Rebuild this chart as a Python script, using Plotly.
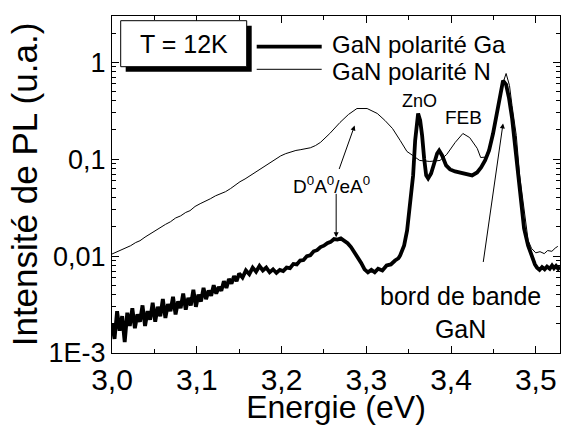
import plotly.graph_objects as go

# ---- data ----
energy_ga = [3.000, 3.003, 3.006, 3.009, 3.012, 3.015, 3.018, 3.021, 3.024, 3.027,
             3.030, 3.033, 3.036, 3.039, 3.042, 3.045, 3.048, 3.051, 3.054, 3.057,
             3.060, 3.063, 3.066, 3.069, 3.072, 3.075, 3.078, 3.081, 3.084, 3.087,
             3.090, 3.093, 3.096, 3.099, 3.102, 3.105, 3.108, 3.111, 3.114, 3.117,
             3.120, 3.123, 3.126, 3.129, 3.132, 3.135, 3.138, 3.141, 3.144, 3.147,
             3.150, 3.154, 3.158, 3.162, 3.166, 3.170, 3.174, 3.178, 3.182, 3.186,
             3.190, 3.194, 3.198, 3.202, 3.206, 3.210, 3.214, 3.218, 3.222, 3.226,
             3.230, 3.234, 3.238, 3.242, 3.246, 3.250, 3.254, 3.258, 3.262, 3.266,
             3.270, 3.274, 3.278, 3.282, 3.286, 3.290, 3.294, 3.298, 3.302, 3.306,
             3.310, 3.314, 3.319, 3.324, 3.329, 3.334, 3.338,
             3.3400, 3.3447, 3.3482, 3.3518, 3.3553, 3.3577, 3.3600, 3.3612,
             3.3636, 3.3659, 3.3683, 3.3707, 3.3730, 3.3765, 3.3801, 3.3836, 3.3860, 3.3895,
             3.3942, 3.3989, 3.4048, 3.4107, 3.4178, 3.4249, 3.4308, 3.4355, 3.4402, 3.4449,
             3.4496, 3.4543, 3.4579, 3.4614, 3.4650, 3.4685, 3.4721, 3.4756, 3.4791, 3.4827,
             3.4862, 3.4909, 3.4956, 3.4990, 3.5015, 3.5045, 3.5074, 3.5105, 3.5133, 3.5165,
             3.5192, 3.5215, 3.5239, 3.5265, 3.5286]
intensity_ga = [0.0020, 0.0014, 0.0027, 0.0017, 0.0024, 0.0013, 0.0026, 0.0019, 0.0029, 0.0018,
                0.0025, 0.0021, 0.0031, 0.0019, 0.0027, 0.0022, 0.0033, 0.0021, 0.0030, 0.0024,
                0.0036, 0.0023, 0.0032, 0.0027, 0.0038, 0.0025, 0.0034, 0.0029, 0.0041, 0.0028,
                0.0037, 0.0031, 0.0045, 0.0030, 0.0040, 0.0034, 0.0047, 0.0036, 0.0044, 0.0039,
                0.0050, 0.0041, 0.0048, 0.0044, 0.0055, 0.0047, 0.0058, 0.0052, 0.0062, 0.0055,
                0.0066, 0.0060, 0.0071, 0.0065, 0.0076, 0.0069, 0.0079, 0.0071, 0.0076, 0.0068,
                0.0073, 0.0067, 0.0072, 0.0070, 0.0076, 0.0075, 0.0083, 0.0082, 0.0090, 0.0091,
                0.0100, 0.0102, 0.0112, 0.0115, 0.0124, 0.0128, 0.0136, 0.0140, 0.0150, 0.0148,
                0.0152, 0.0145, 0.0136, 0.0124, 0.0110, 0.0097, 0.0085, 0.0073, 0.0068, 0.0072,
                0.0068, 0.0074, 0.0071, 0.0080, 0.0082, 0.0090, 0.0095,
                0.01016, 0.01289, 0.01842, 0.0333, 0.0679, 0.1558, 0.2505, 0.296,
                0.2505, 0.1754, 0.1016, 0.0679, 0.0632, 0.0712, 0.0903, 0.1145, 0.1230, 0.1092,
                0.0861, 0.0783, 0.0747, 0.0729, 0.0700, 0.0679, 0.0729, 0.0820, 0.0970, 0.1230,
                0.1840, 0.318, 0.487, 0.647, 0.589, 0.423, 0.263, 0.1385, 0.0679, 0.0333,
                0.01932, 0.01289, 0.0095, 0.0082, 0.0076, 0.0072, 0.0077, 0.0073, 0.0078, 0.0074,
                0.0080, 0.0075, 0.0079, 0.0074, 0.0078]

energy_n = [3.000, 3.005, 3.010, 3.016, 3.022, 3.028, 3.033, 3.039, 3.045, 3.051,
            3.057, 3.063, 3.069, 3.075, 3.081, 3.087, 3.092, 3.098, 3.104, 3.110,
            3.116, 3.122, 3.128, 3.134, 3.140, 3.146, 3.151, 3.157, 3.163, 3.169,
            3.175, 3.181, 3.187, 3.193, 3.199, 3.205, 3.211, 3.217, 3.222, 3.228,
            3.234, 3.240, 3.246, 3.257, 3.269, 3.279, 3.289, 3.301, 3.313, 3.322,
            3.331, 3.340, 3.348, 3.355, 3.363, 3.375, 3.387, 3.395, 3.405, 3.414,
            3.422, 3.431, 3.435, 3.441, 3.448, 3.455, 3.461, 3.465, 3.469, 3.472,
            3.477, 3.481, 3.486, 3.491, 3.495, 3.500, 3.505, 3.510, 3.514, 3.519,
            3.523, 3.526]
intensity_n = [0.0105, 0.0110, 0.0114, 0.0122, 0.0128, 0.0138, 0.0144, 0.0157, 0.0170, 0.0182,
               0.0200, 0.0212, 0.0226, 0.0247, 0.0260, 0.0282, 0.0294, 0.0325, 0.0347, 0.0366,
               0.0390, 0.0418, 0.0440, 0.0462, 0.0498, 0.0545, 0.0585, 0.0625, 0.0676, 0.0740,
               0.0800, 0.0860, 0.0920, 0.1000, 0.1080, 0.1140, 0.1190, 0.1230, 0.1250, 0.1270,
               0.1310, 0.1380, 0.1490, 0.184, 0.239, 0.289, 0.333, 0.333, 0.296, 0.251,
               0.207, 0.156, 0.120, 0.109, 0.097, 0.0947, 0.097, 0.112, 0.149, 0.184,
               0.167, 0.129, 0.104, 0.105, 0.160, 0.330, 0.600, 0.765, 0.575, 0.358,
               0.176, 0.0679, 0.0296, 0.0145, 0.0120, 0.0108, 0.0111, 0.0106, 0.0114, 0.0112,
               0.0121, 0.0126]

series_names = ["GaN polarité Ga", "GaN polarité N"]
x_tickvals = [3.0, 3.1, 3.2, 3.3, 3.4, 3.5]
x_ticktext = ["3,0", "3,1", "3,2", "3,3", "3,4", "3,5"]
y_tickvals = [0.001, 0.01, 0.1, 1]
y_ticktext = ["1E-3", "0,01", "0,1", "1"]
temperature_label = "T = 12K"

FONT = "Liberation Sans, Arial, sans-serif"

fig = go.Figure()
fig.add_trace(go.Scatter(x=energy_n, y=intensity_n, mode="lines", name=series_names[1],
                         line=dict(color="black", width=1), showlegend=False))
fig.add_trace(go.Scatter(x=energy_ga, y=intensity_ga, mode="lines", name=series_names[0],
                         line=dict(color="black", width=3.8), showlegend=False))

axis_common = dict(showline=True, linecolor="black", linewidth=1.3, mirror="ticks",
                   ticks="inside", tickcolor="black", ticklen=7, tickwidth=1.2,
                   showgrid=False, zeroline=False)

fig.update_xaxes(range=[3.0, 3.5286], tickvals=x_tickvals, ticktext=x_ticktext,
                 tickfont=dict(family=FONT, size=30, color="black"),
                 title=dict(text="Energie (eV)", font=dict(family=FONT, size=32, color="black"), standoff=0),
                 minor=dict(dtick=0.05, ticks="inside", ticklen=4, tickcolor="black", tickwidth=1),
                 **axis_common)
fig.update_yaxes(type="log", range=[-3, 0.477], tickvals=y_tickvals, ticktext=y_ticktext,
                 tickfont=dict(family=FONT, size=27, color="black"),
                 title=dict(text="Intensité de PL (u.a.)", font=dict(family=FONT, size=35, color="black"), standoff=0),
                 minor=dict(dtick="D1", ticks="inside", ticklen=4, tickcolor="black", tickwidth=1),
                 **axis_common)

def px_x(p):
    return (p - 112) / 448.0

def px_y(p):
    return (353 - p) / 337.0

shapes = [
    dict(type="rect", xref="paper", yref="paper", x0=px_x(125.7), x1=px_x(251.7), y0=px_y(71.7), y1=px_y(25.7),
         fillcolor="black", line=dict(color="black", width=0)),
    dict(type="rect", xref="paper", yref="paper", x0=px_x(120.7), x1=px_x(246.7), y0=px_y(66.7), y1=px_y(20.7),
         fillcolor="white", line=dict(color="black", width=1)),
    dict(type="line", xref="paper", yref="paper", x0=px_x(256.7), x1=px_x(321.7), y0=px_y(46.7), y1=px_y(46.7),
         line=dict(color="black", width=3.8)),
    dict(type="line", xref="paper", yref="paper", x0=px_x(256.7), x1=px_x(321.7), y0=px_y(69.3), y1=px_y(69.3),
         line=dict(color="black", width=1)),
]
fig.update_layout(shapes=shapes)

ann = [
    dict(text=temperature_label, xref="paper", yref="paper", x=px_x(184), y=px_y(44), showarrow=False,
         font=dict(family=FONT, size=25, color="black"), xanchor="center", yanchor="middle"),
    dict(text=series_names[0], xref="paper", yref="paper", x=px_x(330), y=px_y(45), showarrow=False,
         font=dict(family=FONT, size=24, color="black"), xanchor="left", yanchor="middle"),
    dict(text=series_names[1], xref="paper", yref="paper", x=px_x(330), y=px_y(71), showarrow=False,
         font=dict(family=FONT, size=24, color="black"), xanchor="left", yanchor="middle"),
    dict(text="ZnO", x=3.3624, y=-0.395, showarrow=False, font=dict(family=FONT, size=18, color="black")),
    dict(text="FEB", x=3.4142, y=-0.570, showarrow=False, font=dict(family=FONT, size=19, color="black")),
    dict(text="D<sup>0</sup>A<sup>0</sup>/eA<sup>0</sup>", x=3.2586, y=-1.271, showarrow=False,
         font=dict(family=FONT, size=19, color="black")),
    dict(text="bord de bande<br>GaN", x=3.4107, y=-2.586, showarrow=False,
         font=dict(family=FONT, size=25, color="black")),
    dict(text="", x=3.2863, y=-0.653, ax=-16, ay=45, showarrow=True, arrowhead=2, arrowsize=1,
         arrowwidth=1, arrowcolor="black", standoff=0),
    dict(text="", x=3.2645, y=-1.807, ax=0, ay=-45, showarrow=True, arrowhead=2, arrowsize=1,
         arrowwidth=1, arrowcolor="black", standoff=0),
    dict(text="", x=3.4614, y=-0.632, ax=-20, ay=140, showarrow=True, arrowhead=2, arrowsize=1,
         arrowwidth=1, arrowcolor="black", standoff=0),
]
fig.update_layout(annotations=ann)

fig.update_layout(width=562, height=425, margin=dict(l=112, r=2, t=16, b=72, autoexpand=False),
                  paper_bgcolor="white", plot_bgcolor="white",
                  font=dict(family=FONT, color="black"), showlegend=False)

fig.write_html("out.html", config={"displayModeBar": False},
               post_script="document.body.style.margin='0';")
